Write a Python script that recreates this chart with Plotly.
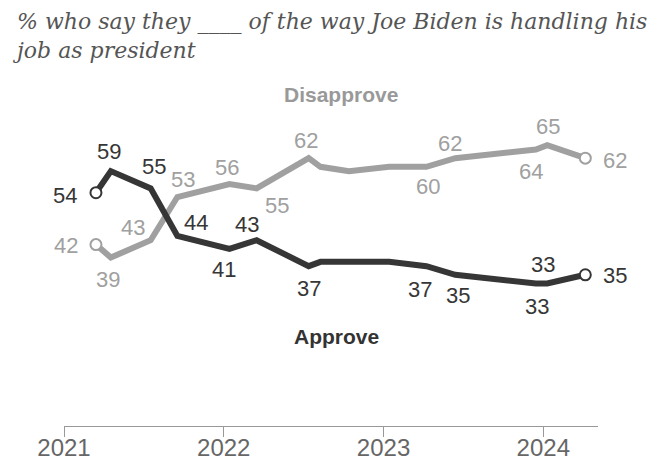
import plotly.graph_objects as go

dates = ["2021-03-15", "2021-04-18", "2021-07-18", "2021-09-17", "2022-01-14",
         "2022-03-17", "2022-07-14", "2022-08-10", "2022-10-14", "2023-01-14",
         "2023-04-09", "2023-06-14", "2023-12-15", "2024-01-10", "2024-04-06"]
approve = [54, 59, 55, 44, 41, 43, 37, 38, 38, 38, 37, 35, 33, 33, 35]
disapprove = [42, 39, 43, 53, 56, 55, 62, 60, 59, 60, 60, 62, 64, 65, 62]

# label offsets in pixels (None = no label)
approve_off = [(-31, -3), (-2, 20), (3, 22), (19, 13), (-5, -21), (-10, 16), (0, -22),
               None, None, None, (-6, -23), (3, -21), (1, -23), (-4, 19), (30, -1)]
disapprove_off = [(-30, -1), (-3, -22), (-18, 13), (6, 18), (-2, 17), (20, -17), (-3, 18),
                  None, None, None, (2, -20), (-5, 15), (-5, -22), (1, 19), (30, -2)]

tick_vals = ["2021-01-01", "2022-01-01", "2023-01-01", "2024-01-01"]
tick_text = ["2021", "2022", "2023", "2024"]

title_text = "<i>% who say they ____ of the way Joe Biden is handling his<br>job as president</i>"

C_APP = "#363636"
C_DIS = "#a0a0a0"
FONT = "Liberation Sans"

fig = go.Figure()
fig.add_trace(go.Scatter(x=dates, y=disapprove, mode="lines",
                         line=dict(color=C_DIS, width=6), hoverinfo="skip"))
fig.add_trace(go.Scatter(x=dates, y=approve, mode="lines",
                         line=dict(color=C_APP, width=6), hoverinfo="skip"))
for ser, col in ((disapprove, C_DIS), (approve, C_APP)):
    fig.add_trace(go.Scatter(x=[dates[0], dates[-1]], y=[ser[0], ser[-1]], mode="markers",
                             marker=dict(size=11, color="white", line=dict(color=col, width=2)),
                             hoverinfo="skip", cliponaxis=False))

anns = []
for ser, offs, col in ((approve, approve_off, C_APP), (disapprove, disapprove_off, C_DIS)):
    for d, v, o in zip(dates, ser, offs):
        if o is None:
            continue
        anns.append(dict(x=d, y=v, text=str(v), showarrow=False, xshift=o[0], yshift=o[1],
                         font=dict(family=FONT, size=22, color=col)))

anns.append(dict(x=0.518, y=1.022, xref="paper", yref="paper", text="<b>Disapprove</b>",
                 xanchor="center", yanchor="middle",
                 showarrow=False, font=dict(family=FONT, size=21, color="#999999")))
anns.append(dict(x=0.511, y=0.276, xref="paper", yref="paper", text="<b>Approve</b>",
                 xanchor="center", yanchor="middle",
                 showarrow=False, font=dict(family=FONT, size=21, color="#333333")))
anns.append(dict(x=-0.101, y=1.293, xref="paper", yref="paper", text=title_text,
                 xanchor="left", yanchor="top", align="left", showarrow=False,
                 font=dict(family="DejaVu Serif", size=22, color="#555555")))

fig.update_layout(
    width=660, height=463,
    margin=dict(l=64, r=62, t=102, b=37),
    paper_bgcolor="white", plot_bgcolor="white",
    showlegend=False,
    annotations=anns,
    xaxis=dict(range=["2021-01-01", "2024-05-05"], tickvals=tick_vals, ticktext=tick_text,
               automargin=False,
               showgrid=False, zeroline=False, showline=True, linecolor="#999999", linewidth=1,
               ticks="outside", ticklen=10, tickcolor="#999999", tickwidth=1,
               tickfont=dict(family=FONT, size=24, color="#666666")),
    yaxis=dict(range=[0, 75], visible=False, showgrid=False, zeroline=False, automargin=False),
)
try:
    fig.update_xaxes(ticklabelstandoff=-10)
except Exception:
    fig.update_xaxes(ticklen=4)

fig.write_html("out.html", config={"displayModeBar": False},
               post_script="document.body.style.margin='0px';document.body.style.overflow='hidden';window.scrollTo(0,0);")
